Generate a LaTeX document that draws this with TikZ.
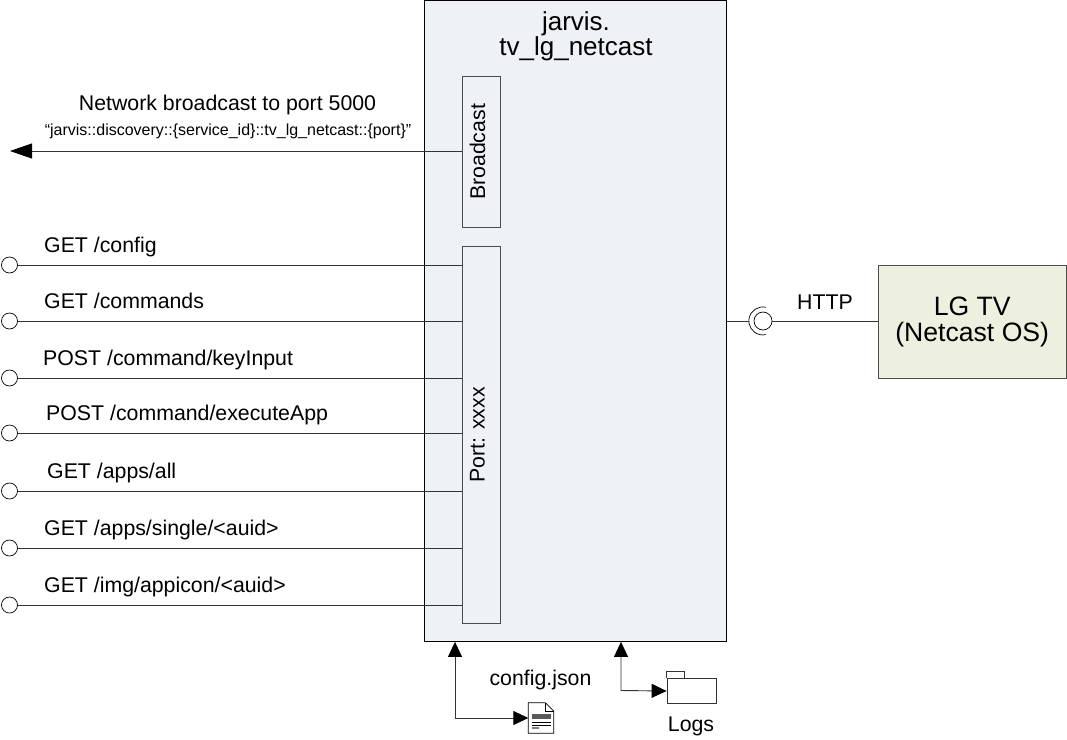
\documentclass[tikz,border=0pt]{standalone}
\usepackage{fontspec}
\setmainfont{Liberation Sans}
\usetikzlibrary{arrows.meta, calc}
\definecolor{boxblue}{HTML}{EEF1F6}
\definecolor{boxgreen}{HTML}{EEF0DF}
\tikzset{
        mainbox/.style={draw=black, line width=0.9pt, fill=boxblue, inner sep=0pt},
        portbox/.style={draw=black!70, line width=0.9pt, fill=boxblue, inner sep=0pt, minimum width=38pt},
        tvbox/.style={draw=black!70, line width=0.9pt, fill=boxgreen, inner sep=0pt, minimum width=188.5pt, minimum height=113pt, align=center, font=\fontsize{26.6}{26}\selectfont},
        endpoint/.style={circle, draw=black, line width=0.7pt, fill=white, inner sep=0pt, minimum size=16pt},
        wire/.style={draw=black!80, line width=0.9pt},
        sendwire/.style={wire, -{Triangle[black, length=22pt, width=15pt]}},
        filewire/.style={wire, {Triangle[black, length=15pt, width=14pt]}-{Triangle[black, length=15pt, width=14pt]}},
        rotlabel/.style={rotate=90, font=\fontsize{21.3}{24}\selectfont},
        apilabel/.style={anchor=base west, inner sep=0pt, font=\fontsize{21.3}{24}\selectfont},
        textlabel/.style={inner sep=0pt, font=\fontsize{21.3}{24}\selectfont},
        smalllabel/.style={inner sep=0pt, font=\fontsize{16}{18}\selectfont}
          }

\begin{document}
\begin{tikzpicture}[x=1pt, y=-1pt]
        \useasboundingbox (0,0) rectangle (1067,739);
        \node[mainbox, anchor=north west, minimum width=302pt, minimum height=641pt] (jarvis) at (424,0) {};
        \node[align=center, inner sep=0pt, font=\fontsize{26}{25}\selectfont] (title) at (576,36.5) {jarvis.\\tv\_lg\_netcast};
        \node[portbox, anchor=north west, minimum height=151pt] (broadcast) at (462,76) {};
        \node[rotlabel] (broadcastlabel) at ([xshift=-4pt]broadcast.center) {Broadcast};
        \node[portbox, anchor=north west, minimum height=377pt] (port) at (462,246) {};
        \node[rotlabel] (portlabel) at ([xshift=-4pt]port.center) {Port: xxxx};
        \node[tvbox, anchor=north west] (tv) at (877.5,265) {LG TV\\(Netcast OS)};

        % broadcast
        \coordinate (bcastend) at (10,151);
        \draw[sendwire] (broadcast.west |- bcastend) -- (bcastend);
        \node[textlabel] (bcasttext) at (227.5,105) {Network broadcast to port 5000};
        \node[smalllabel] (bcastkey) at (228,131) {“jarvis::discovery::\{service\_id\}::tv\_lg\_netcast::\{port\}”};

        % rest calls
        \foreach \name/\y/\xlabel/\txt in {
            config/265/44/{GET /config},
            commands/321/44/{GET /commands},
            keyinput/378/43/{POST /command/keyInput},
            executeapp/433/46/{POST /command/executeApp},
            appsall/491/47/{GET /apps/all},
            appssingle/548/44/{GET /apps/single/<auid>},
            appicon/605/44/{GET /img/appicon/<auid>}} {
          \node[endpoint] (\name) at (9.5,\y) {};
          \draw[wire] (\name) -- (\name -| port.west);
          \node[apilabel] (\name label) at (\xlabel,\y-13) {\txt};
        }

        % tv link
        \node[endpoint, minimum size=18pt] (socket) at (763,321) {};
        \coordinate (socketback) at (749,321);
        \draw[line width=0.7pt] (766,307.3) arc[start angle=-77, end angle=-283, radius=14];
        \draw[wire] (jarvis.east |- socket) -- (socketback);
        \draw[wire] (socket) -- (tv.west |- socket);
        \node[textlabel] (httplabel) at (825,302) {HTTP};

        % config file
        \node[inner sep=0pt, minimum width=25pt, minimum height=30pt] (configfile) at (541,718) {};
        \draw[line width=0.7pt, fill=white] (configfile.north west) -- ++(17,0) -- (configfile.north east |- 0,711) -- (configfile.south east) -- (configfile.south west) -- cycle;
        \draw[line width=0.6pt] (545.5,703) -- (545.5,711) -- (553.5,711);
        \fill[black!65] (532,714) rectangle (551,719);
        \draw[line width=0.6pt] (532,722) -- (551,722) (532,725) -- (551,725);
        \fill[black!50] (532,727) rectangle (539,729);
        \coordinate (configcorner) at (455,718);
        \draw[filewire] (configcorner |- jarvis.south) -- (configcorner) -- (configfile.west);
        \node[textlabel] (configlabel) at (540.5,680) {config.json};

        % logs folder
        \node[inner sep=0pt, draw=black!80, line width=0.8pt, fill=white, minimum width=49pt, minimum height=25pt] (logsfolder) at (691.5,691) {};
        \draw[draw=black!80, line width=0.8pt] (logsfolder.north west) -- ++(0,-6.5) -- ++(18,0) -- ++(0,6.5);
        \coordinate (logscorner) at (621,690.5);
        \draw[filewire] (logscorner |- jarvis.south) -- (logscorner) -- (logsfolder.west);
        \node[textlabel] (logslabel) at (691,726) {Logs};
\end{tikzpicture}
\end{document}
